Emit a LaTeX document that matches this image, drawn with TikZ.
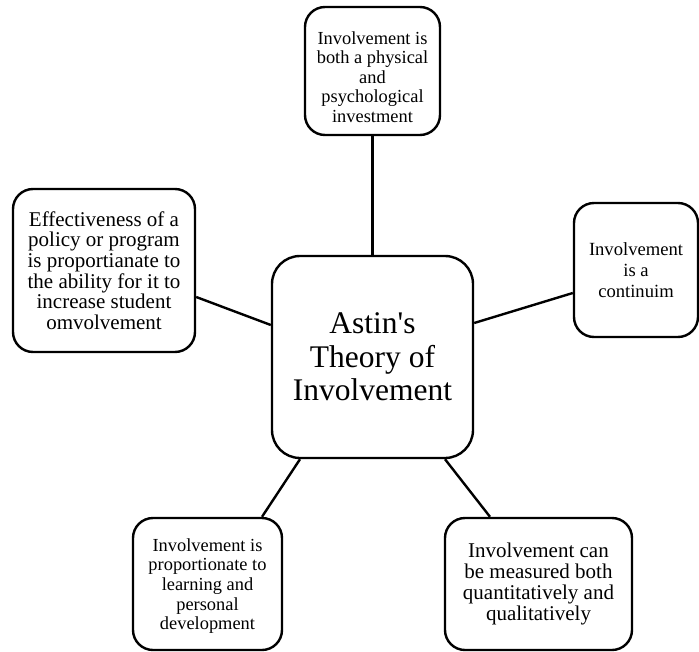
\documentclass[tikz,border=0pt]{standalone}
\usepackage{fontspec}
\setmainfont{Liberation Serif}
\begin{document}
\begin{tikzpicture}[x=1pt,y=-1pt,
  box/.style={draw, line width=2.4pt, rounded corners=20pt, align=center, inner sep=0pt},
  boxtext/.style={align=center, inner sep=0pt},
  link/.style={line width=2.4pt}]
\useasboundingbox (0,0) rectangle (699,651);
\node[box, minimum width=201pt, minimum height=202pt, rounded corners=28pt,
      font=\fontsize{31.5}{33.5}\selectfont] (center) at (372.5,357)
  {Astin\textquotesingle s\\Theory of\\Involvement};
\node[box, minimum width=135pt, minimum height=128pt] (top) at (372.5,71) {};
\node[boxtext, font=\fontsize{18.4}{19.5}\selectfont] (toptext) at (372.5,77)
  {Involvement is\\both a physical\\and\\psychological\\investment};
\node[box, minimum width=124pt, minimum height=134pt,
      font=\fontsize{18.6}{21}\selectfont] (right) at (636,270)
  {Involvement\\is a\\continuim};
\node[box, minimum width=182pt, minimum height=163pt,
      font=\fontsize{21}{20.7}\selectfont] (left) at (104,270.5)
  {Effectiveness of a\\policy or program\\is proportianate to\\the ability for it to\\increase student\\omvolvement};
\node[box, minimum width=149pt, minimum height=132pt] (bl) at (207.5,584) {};
\node[boxtext, font=\fontsize{18.4}{19.6}\selectfont] (bltext) at (207.5,586)
  {Involvement is\\proportionate to\\learning and\\personal\\development};
\node[box, minimum width=187pt, minimum height=132pt,
      font=\fontsize{21}{21}\selectfont] (br) at (538.5,584)
  {Involvement can\\be measured both\\quantitatively and\\qualitatively};
\draw[link] (top.south) -- (center.north);
\draw[link] ([yshift=34pt]center.east) -- ([yshift=-23pt]right.west);
\draw[link] ([yshift=-26.5pt]left.east) -- ([yshift=32pt]center.west);
\draw[link] ([xshift=-72.5pt]center.south) -- ([xshift=54.5pt]bl.north);
\draw[link] ([xshift=72.5pt]center.south) -- ([xshift=-48.5pt]br.north);
\end{tikzpicture}
\end{document}
